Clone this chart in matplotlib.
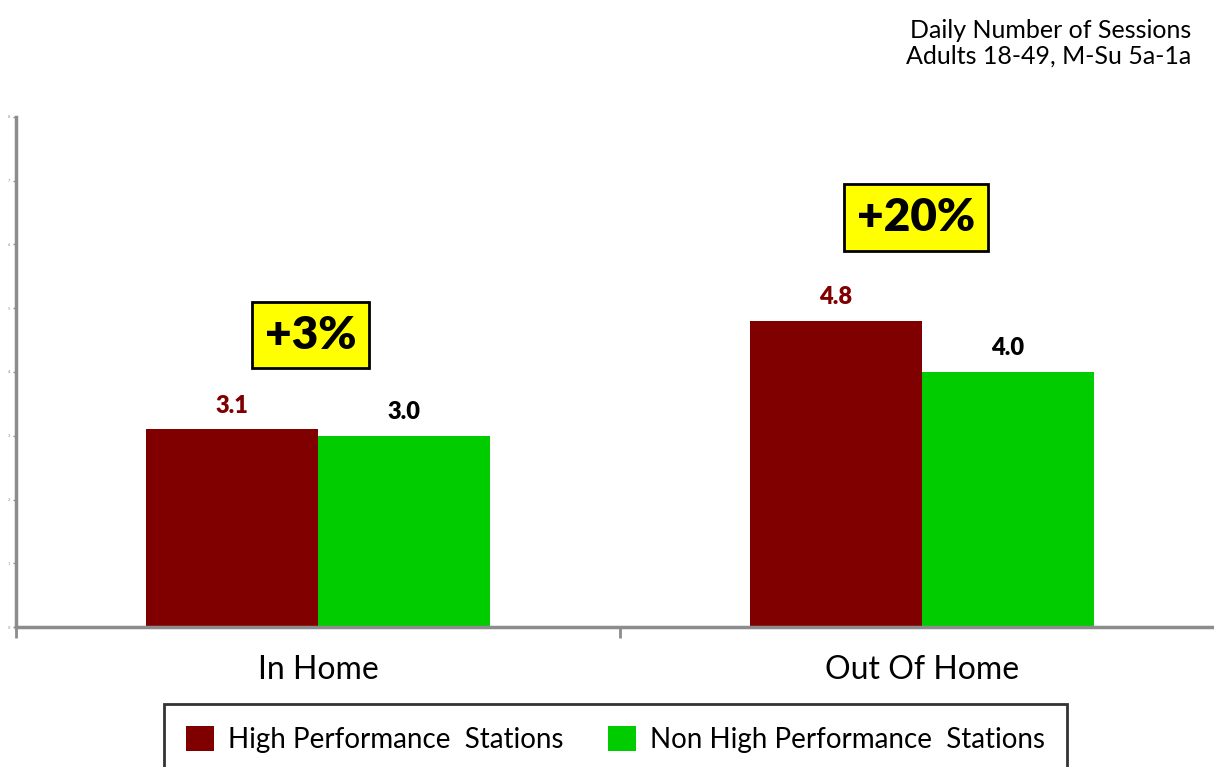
import matplotlib
matplotlib.use("Agg")
import matplotlib.pyplot as plt

categories = ["In Home", "Out Of Home"]
high_perf = [3.1, 4.8]
non_high_perf = [3.0, 4.0]
lift_labels = ["+3%", "+20%"]
lift_positions = [(0.488, 4.58), (1.49, 6.42)]

RED = "#800000"
GREEN = "#00cc00"
GRAY = "#8c8c8c"

plt.rcParams["font.family"] = ["Lato", "DejaVu Sans"]

fig = plt.figure(figsize=(12.14, 7.67), dpi=100)
ax = fig.add_axes([0.0132, 0.1825, 0.995, 0.665])

centers = [0.5, 1.5]
w = 0.285
ax.bar([c - w / 2 for c in centers], high_perf, width=w, color=RED,
       label="High Performance  Stations", zorder=2)
ax.bar([c + w / 2 for c in centers], non_high_perf, width=w, color=GREEN,
       label="Non High Performance  Stations", zorder=2)

for c, v in zip(centers, high_perf):
    ax.text(c - w / 2, v + 0.2, f"{v:.1f}", ha="center", va="bottom",
            fontsize=17, fontweight="heavy", color=RED)
for c, v in zip(centers, non_high_perf):
    ax.text(c + w / 2, v + 0.2, f"{v:.1f}", ha="center", va="bottom",
            fontsize=17, fontweight="heavy", color="black")

for txt, (x, y) in zip(lift_labels, lift_positions):
    ax.text(x, y, txt, ha="center", va="center", fontsize=33, fontweight="heavy",
            bbox=dict(boxstyle="square,pad=0.28", facecolor="#ffff00",
                      edgecolor="black", linewidth=2))

ax.set_xlim(0, 2)
ax.set_ylim(0, 8)
ax.set_xticks([0, 1, 2])
ax.set_xticklabels([])
ax.set_xticks(centers, minor=True)
ax.set_xticklabels(categories, minor=True, fontsize=23)
ax.tick_params(axis="x", which="minor", length=0, pad=20)
ax.tick_params(axis="x", which="major", length=8, width=2, color=GRAY)
ax.set_yticks(range(0, 9))
ax.tick_params(axis="y", length=2, width=1, color=GRAY, labelsize=3,
               labelcolor=GRAY, pad=2)

for s in ["top", "right"]:
    ax.spines[s].set_visible(False)
for s in ["left", "bottom"]:
    ax.spines[s].set_color(GRAY)
    ax.spines[s].set_linewidth(2.5)

leg = fig.legend(loc="upper center", bbox_to_anchor=(0.507, 0.082), ncol=2,
                 fontsize=20, frameon=True, fancybox=False, edgecolor="black",
                 handlelength=1.0, handleheight=1.0, handletextpad=0.5,
                 columnspacing=1.6, borderpad=0.8, borderaxespad=0)
leg.get_frame().set_linewidth(2)

fig.text(0.981, 0.975, "Daily Number of Sessions\nAdults 18-49, M-Su 5a-1a",
         ha="right", va="top", fontsize=18, linespacing=1.15)

fig.savefig("out.png", dpi=100)
